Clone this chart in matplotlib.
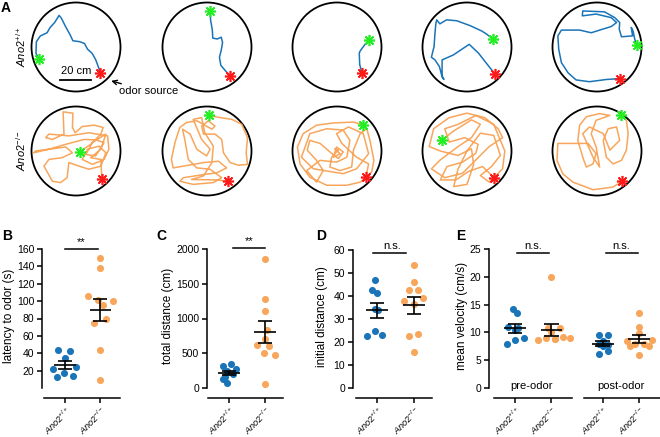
import numpy as np
import matplotlib
matplotlib.use('Agg')
import matplotlib.pyplot as plt
from matplotlib.patches import Circle

plt.rcParams['font.family'] = ['Liberation Sans', 'DejaVu Sans']
plt.rcParams['mathtext.fontset'] = 'custom'
plt.rcParams['mathtext.rm'] = 'Liberation Sans'
plt.rcParams['mathtext.it'] = 'Liberation Sans:italic'
plt.rcParams['mathtext.bf'] = 'Liberation Sans:bold'

W, H = 660, 437
BLUE = '#1a74b8'
ORANGE = '#f8a65c'

# ---- A: tracks, arena radius = 1, from start (green) to odor source (red)
wt_track1 = [(-0.83, -0.28), (-0.90, -0.14), (-0.89, 0.12), (-0.80, 0.25), (-0.65, 0.32),
             (-0.58, 0.44), (-0.48, 0.55), (-0.38, 0.71), (-0.33, 0.65), (-0.24, 0.47),
             (-0.13, 0.27), (-0.07, 0.14), (0.08, 0.12), (0.19, 0.08), (0.26, -0.05),
             (0.36, -0.14), (0.44, -0.28), (0.50, -0.44), (0.55, -0.59)]
wt_track2 = [(0.07, 0.82), (0.08, 0.61), (0.12, 0.38), (0.13, 0.20), (0.23, 0.18),
             (0.32, 0.22), (0.35, 0.10), (0.32, -0.07), (0.28, -0.23), (0.31, -0.41),
             (0.41, -0.53), (0.52, -0.65)]
wt_track3 = [(0.73, 0.16), (0.63, 0.06), (0.52, -0.09), (0.50, -0.14), (0.51, -0.39),
             (0.56, -0.59)]
wt_track4 = [(0.58, 0.18), (0.44, 0.29), (0.33, 0.36), (0.07, 0.48), (-0.23, 0.59),
             (-0.46, 0.61), (-0.61, 0.52), (-0.68, 0.61), (-0.70, 0.52), (-0.72, 0.31),
             (-0.74, 0.01), (-0.80, -0.23), (-0.72, -0.29), (-0.62, -0.44), (-0.57, -0.63),
             (-0.52, -0.73), (-0.56, -0.67), (-0.56, -0.29), (-0.31, -0.18), (0.05, 0.06),
             (0.26, -0.14), (0.44, -0.37), (0.63, -0.61)]
wt_track5 = [(0.89, 0.05), (0.85, 0.17), (0.81, 0.36), (0.77, 0.44), (0.80, 0.25),
             (0.55, 0.23), (0.50, 0.40), (0.51, 0.55), (0.40, 0.66), (0.17, 0.79),
             (-0.32, 0.81), (-0.33, 0.70), (-0.02, 0.74), (0.32, 0.66), (0.44, 0.55),
             (0.32, 0.46), (0.06, 0.38), (-0.13, 0.32), (-0.39, 0.38), (-0.80, 0.38),
             (-0.88, 0.25), (-0.86, -0.05), (-0.80, -0.35), (-0.65, -0.58), (-0.47, -0.74),
             (-0.17, -0.78), (0.21, -0.73), (0.51, -0.71)]

ko_track1 = [(0.08, -0.02), (0.33, 0.15), (0.56, 0.38), (0.61, 0.53), (0.41, 0.58),
             (0.14, 0.55), (-0.02, 0.41), (-0.08, 0.53), (-0.07, 0.85), (-0.29, 0.88),
             (-0.27, 0.38), (-0.53, 0.26), (-0.68, 0.30), (-0.61, 0.38), (-0.16, 0.34),
             (0.29, 0.41), (0.71, 0.34), (0.74, 0.04), (0.63, -0.19), (0.37, -0.30),
             (0.14, -0.19), (0.26, 0.04), (0.52, 0.11), (0.67, -0.04), (0.56, -0.34),
             (0.29, -0.41), (0.07, -0.34), (-0.16, -0.26), (-0.20, -0.60), (-0.35, -0.71),
             (-0.53, -0.68), (-0.72, -0.34), (-0.61, -0.19), (-0.31, -0.15), (-0.08, -0.04),
             (-0.23, 0.09), (-0.91, 0.00), (-0.95, -0.04), (-0.61, 0.04), (-0.23, 0.15),
             (0.18, 0.26), (0.44, 0.25), (0.63, 0.19), (0.44, -0.11), (0.22, -0.08),
             (0.37, 0.19), (0.67, 0.38), (0.56, 0.04), (0.33, -0.15), (0.56, -0.19),
             (0.58, -0.64)]
ko_track2 = [(0.05, 0.81), (0.18, 0.77), (0.56, 0.71), (0.78, 0.60), (0.91, 0.30),
             (0.88, -0.04), (0.91, -0.30), (0.71, -0.32), (0.52, -0.26), (0.37, -0.04),
             (0.33, 0.26), (0.18, 0.38), (-0.08, 0.38), (-0.12, 0.56), (0.03, 0.68),
             (0.18, 0.56), (0.11, 0.49), (-0.23, 0.68), (-0.46, 0.64), (-0.61, 0.53),
             (-0.72, 0.19), (-0.80, -0.19), (-0.76, -0.38), (-0.53, -0.34), (-0.08, -0.26),
             (0.26, -0.23), (0.44, -0.38), (0.22, -0.49), (-0.08, -0.53), (-0.53, -0.60),
             (-0.61, -0.68), (-0.31, -0.75), (0.14, -0.71), (0.33, -0.60), (0.07, -0.41),
             (-0.23, -0.38), (-0.42, -0.19), (-0.50, 0.26), (-0.55, 0.49), (-0.38, 0.38),
             (-0.23, 0.04), (-0.01, -0.11), (0.07, 0.04), (-0.12, 0.26), (-0.31, 0.71),
             (-0.12, 0.75), (-0.05, 0.41), (0.14, 0.11), (0.11, -0.26), (-0.08, -0.56),
             (-0.35, -0.64), (0.22, -0.65), (0.47, -0.68)]
ko_track3 = [(0.58, 0.59), (0.37, 0.65), (-0.08, 0.63), (-0.46, 0.58), (-0.76, 0.39),
             (-0.89, 0.09), (-0.83, -0.29), (-0.61, -0.59), (-0.23, -0.77), (0.22, -0.77),
             (0.52, -0.70), (0.78, -0.47), (0.83, -0.21), (0.74, 0.24), (0.67, 0.50),
             (0.52, 0.39), (0.37, 0.02), (0.33, -0.36), (0.07, -0.44), (-0.16, -0.36),
             (-0.12, -0.14), (0.03, 0.02), (-0.05, 0.05), (0.07, -0.06), (-0.08, -0.14),
             (-0.01, 0.09), (0.14, -0.02), (0.03, -0.17), (-0.16, -0.02), (-0.38, 0.17),
             (-0.61, 0.24), (-0.67, 0.02), (-0.46, -0.21), (-0.31, -0.44), (-0.46, -0.70),
             (-0.68, -0.44), (-0.38, -0.21), (-0.01, -0.25), (0.22, -0.14), (0.29, 0.24),
             (0.14, 0.47), (-0.23, 0.50), (-0.61, 0.39), (-0.80, -0.14), (-0.53, -0.40),
             (0.14, -0.51), (0.44, -0.40), (0.71, -0.06), (0.59, 0.39), (0.26, 0.54),
             (-0.01, 0.39), (0.11, 0.17), (0.44, -0.14), (0.71, -0.29), (0.65, -0.59)]
ko_track4 = [(-0.57, 0.24), (-0.30, 0.45), (0.10, 0.70), (0.30, 0.60), (0.10, 0.30),
             (-0.20, 0.10), (-0.60, -0.20), (-0.80, -0.40), (-0.50, -0.60), (-0.10, -0.50),
             (0.20, -0.20), (0.50, 0.10), (0.80, 0.30), (0.70, 0.50), (0.40, 0.75),
             (0.00, 0.85), (-0.40, 0.75), (-0.75, 0.50), (-0.85, 0.10), (-0.60, 0.00),
             (-0.20, -0.10), (0.10, 0.05), (0.15, -0.30), (0.00, -0.75), (-0.30, -0.80),
             (-0.20, -0.40), (0.00, 0.00), (0.30, 0.40), (0.60, 0.35), (0.75, -0.10),
             (0.55, -0.35), (0.30, -0.55), (0.50, -0.70), (0.80, -0.40), (0.85, 0.00),
             (0.60, 0.60), (0.20, 0.80), (-0.20, 0.60), (-0.50, 0.50), (-0.40, 0.20),
             (-0.05, 0.30), (0.25, 0.15), (0.20, -0.05), (-0.10, -0.25), (-0.45, -0.35),
             (-0.60, -0.65), (-0.25, -0.65), (0.05, -0.45), (0.35, -0.35), (0.61, -0.60)]
ko_track5 = [(0.53, 0.80), (0.66, 0.69), (0.70, 0.39), (0.66, 0.02), (0.55, -0.21),
             (0.36, -0.29), (0.21, -0.14), (0.14, 0.24), (0.25, 0.50), (0.44, 0.54),
             (0.51, 0.24), (0.29, 0.02), (0.14, 0.39), (-0.17, 0.54), (-0.32, 0.39),
             (-0.09, -0.14), (0.06, -0.36), (-0.02, 0.09), (-0.13, 0.39), (-0.02, 0.69),
             (0.29, 0.80), (0.06, 0.84), (-0.24, 0.77), (-0.39, 0.58), (-0.43, 0.24),
             (-0.32, -0.14), (-0.24, -0.36), (-0.09, -0.29), (-0.02, -0.06), (-0.20, 0.17),
             (-0.54, 0.17), (-0.88, 0.17), (-0.90, -0.21), (-0.77, -0.51), (-0.54, -0.70),
             (-0.09, -0.87), (0.36, -0.81), (0.57, -0.68)]

wt_tracks = [wt_track1, wt_track2, wt_track3, wt_track4, wt_track5]
ko_tracks = [ko_track1, ko_track2, ko_track3, ko_track4, ko_track5]
ARENA_RADIUS_CM = 29.0

# ---- B-E: per-animal values (+/+ blue, -/- orange)
latency_wt = [43.8, 42.7, 34, 24.6, 21.5, 17, 14, 12.3]
latency_ko = [150, 138, 106, 101, 100, 96, 80, 75, 44, 9]
latency_wt_jit = [-0.19, 0.14, 0.0, 0.30, -0.33, -0.02, 0.24, -0.22]
latency_ko_jit = [0, 0, -0.33, -0.05, 0.36, 0.08, 0.18, -0.16, 0, 0]

dist_wt = [340, 310, 270, 250, 200, 160, 130, 70]
dist_ko = [1850, 1280, 1110, 830, 700, 620, 610, 500, 470, 60]
dist_wt_jit = [0.05, -0.17, 0.2, -0.05, 0.12, -0.12, -0.18, -0.05]
dist_ko_jit = [0, 0, 0, 0.05, 0, -0.22, 0.12, -0.03, 0.28, 0]

init_wt = [47, 42.5, 41.5, 34.5, 34, 25, 23, 22.5]
init_ko = [53.5, 46.3, 42.4, 42.4, 39.3, 37.9, 36.6, 23.4, 22.8, 15.6]
init_wt_jit = [-0.06, -0.13, 0.0, -0.06, 0.02, -0.06, 0.13, -0.26]
init_ko_jit = [0, 0, -0.14, 0.12, 0.23, -0.27, 0, 0.12, -0.14, 0]

vel_pre_wt = [14.2, 13.5, 11, 10.8, 10.5, 9, 8.7, 8]
vel_pre_ko = [20, 10.8, 10.8, 10, 9.1, 9, 9, 8.9, 8.8, 8.7]
vel_post_wt = [9.6, 9.6, 8.5, 8, 7.8, 7.5, 6.6, 6.2]
vel_post_ko = [13.5, 11, 9.9, 8.7, 8.4, 7.9, 7.9, 7.6, 7.5, 6]
vel_pre_wt_jit = [-0.05, 0.06, -0.18, 0.09, 0, 0.25, 0, -0.23]
vel_pre_ko_jit = [0, -0.09, 0.23, 0, 0.32, -0.15, 0.52, 0.1, 0.1, -0.36]
vel_post_wt_jit = [-0.11, 0.16, 0, -0.11, 0.16, 0, 0.16, -0.11]
vel_post_ko_jit = [0, 0, 0, 0.35, -0.34, -0.11, 0.12, -0.26, 0.28, 0]

genotype_labels = [r'$\mathit{Ano2}^{+/+}$', r'$\mathit{Ano2}^{-/-}$']

fig = plt.figure(figsize=(W / 100, H / 100), dpi=100)


def px_axes(x0, y0, w, h):
    return fig.add_axes([x0 / W, 1 - (y0 + h) / H, w / W, h / H])


# ---- panel A
circle_x = [76, 207, 337, 467, 597]
circle_y = [47, 151]
R = 44.5
lim = 50 / R
arena_axes = []
for row, (tracks, col) in enumerate([(wt_tracks, BLUE), (ko_tracks, ORANGE)]):
    for i, tr in enumerate(tracks):
        ax = px_axes(circle_x[i] - 50, circle_y[row] - 50, 100, 100)
        ax.set_xlim(-lim, lim)
        ax.set_ylim(-lim, lim)
        ax.axis('off')
        ax.add_patch(Circle((0, 0), 1, fill=False, ec='k', lw=1.3))
        xy = np.array(tr)
        ax.plot(xy[:, 0], xy[:, 1], color=col, lw=1.1, solid_joinstyle='round')
        ax.plot(xy[0, 0], xy[0, 1], marker=(8, 2, 0), ms=8, mec='#22ee22', mew=1.2)
        ax.plot(xy[-1, 0], xy[-1, 1], marker=(8, 2, 0), ms=8, mec='#ff1a1a', mew=1.2)
        arena_axes.append(ax)

ax = arena_axes[0]
bar = 20 / ARENA_RADIUS_CM
ax.plot([-0.35, -0.35 + bar], [-0.74, -0.74], color='k', lw=1.3)
ax.text(-0.35 + bar / 2, -0.66, '20 cm', ha='center', va='bottom', fontsize=8)
ax.annotate('odor source', xy=(0.79, -0.76), xytext=(0.96, -1.0), fontsize=8,
            ha='left', va='center', annotation_clip=False,
            arrowprops=dict(arrowstyle='->', color='k', lw=1.0, shrinkA=0, shrinkB=0))

fig.text(21 / W, 1 - 47 / H, genotype_labels[0], rotation=90, ha='center', va='center', fontsize=8)
fig.text(21 / W, 1 - 151 / H, genotype_labels[1], rotation=90, ha='center', va='center', fontsize=8)

for letter, (x, y) in zip('ABCDE', [(1, 1), (2, 229), (156, 229), (316, 229), (456, 229)]):
    fig.text(x / W, 1 - y / H, letter, fontsize=10, fontweight='bold', ha='left', va='top')


# ---- panels B-E
def style(ax, xlim, ylim, yticks, ylabel, lab_x, lab_y=0.52):
    ax.set_xlim(*xlim)
    ax.set_ylim(*ylim)
    ax.set_yticks(yticks)
    for s in ['top', 'right']:
        ax.spines[s].set_visible(False)
    ax.spines['left'].set_linewidth(1.1)
    ax.spines['bottom'].set_linewidth(1.1)
    ax.spines['bottom'].set_position(('outward', 7.2))
    ax.tick_params(width=1.1, length=3.6, labelsize=7.5, pad=2)
    ax.tick_params(axis='x', pad=1)
    ax.set_ylabel(ylabel, fontsize=8.5)
    ax.yaxis.set_label_coords(lab_x, lab_y)


def dots(ax, x0, vals, jit, color):
    ax.scatter(x0 + np.array(jit), vals, s=26, color=color, lw=0, zorder=3, clip_on=False)
    m = np.mean(vals)
    se = np.std(vals, ddof=1) / np.sqrt(len(vals))
    kw = dict(color='k', lw=1.2, zorder=4, solid_capstyle='butt')
    ax.plot([x0 - 0.3, x0 + 0.3], [m, m], **kw)
    ax.plot([x0 - 0.2, x0 + 0.2], [m + se, m + se], **kw)
    ax.plot([x0 - 0.2, x0 + 0.2], [m - se, m - se], **kw)
    ax.plot([x0, x0], [m - se, m + se], **kw)


def sig(ax, x1, x2, y, txt, tx=None):
    ax.plot([x1, x2], [y, y], color='k', lw=1.1, clip_on=False)
    ax.annotate(txt, xy=((x1 + x2) / 2 if tx is None else tx, y), xytext=(0, 1.5),
                textcoords='offset points', ha='center', va='bottom', fontsize=8,
                annotation_clip=False)


def xlabels(ax, pos, labels):
    ax.set_xticks(pos)
    ax.set_xticklabels(labels, rotation=45, ha='right', rotation_mode='anchor', fontsize=6.6)


# B
axB = px_axes(42, 249, 78, 139)
style(axB, (-0.657, 1.571), (0, 160), range(20, 161, 20), 'latency to odor (s)', -0.35)
axB.spines['left'].set_bounds(0, 160)
axB.spines['bottom'].set_bounds(-0.6, 1.571)
dots(axB, 0, latency_wt, latency_wt_jit, BLUE)
dots(axB, 1, latency_ko, latency_ko_jit, ORANGE)
sig(axB, 0, 0.95, 160, '**')
xlabels(axB, [0, 1], genotype_labels)

# C
axC = px_axes(207, 249, 76, 139)
style(axC, (-0.611, 1.5), (0, 2000), range(0, 2001, 500), 'total distance (cm)', -0.43)
axC.spines['bottom'].set_bounds(-0.58, 1.5)
dots(axC, 0, dist_wt, dist_wt_jit, BLUE)
dots(axC, 1, dist_ko, dist_ko_jit, ORANGE)
sig(axC, 0.1, 1.0, 2010, '**')
xlabels(axC, [0, 1], genotype_labels)

# D
axD = px_axes(353, 250, 79, 138)
style(axD, (-0.649, 1.486), (0, 60), range(0, 61, 10), 'initial distance (cm)', -0.32)
axD.spines['bottom'].set_bounds(-0.57, 1.486)
dots(axD, 0, init_wt, init_wt_jit, BLUE)
dots(axD, 1, init_ko, init_ko_jit, ORANGE)
sig(axD, -0.12, 0.78, 58.8, 'n.s.', tx=0.4)
xlabels(axD, [0, 1], genotype_labels)

# E
pos = [0, 1, 2.4, 3.4]
axE = px_axes(489, 249, 171, 139)
style(axE, (-0.71, 3.97), (0, 25), range(0, 26, 5), 'mean velocity (cm/s)', -0.123)
axE.spines['bottom'].set_bounds(-0.58, 1.56)
axE.plot([1.89, 3.97], [-10 / 139, -10 / 139], color='k', lw=1.1,
         transform=axE.get_xaxis_transform(), clip_on=False)
dots(axE, pos[0], vel_pre_wt, vel_pre_wt_jit, BLUE)
dots(axE, pos[1], vel_pre_ko, vel_pre_ko_jit, ORANGE)
dots(axE, pos[2], vel_post_wt, vel_post_wt_jit, BLUE)
dots(axE, pos[3], vel_post_ko, vel_post_ko_jit, ORANGE)
sig(axE, 0.05, 0.94, 24.3, 'n.s.')
sig(axE, 2.48, 3.36, 24.3, 'n.s.')
axE.text(0.45, 0.3, 'pre-odor', ha='center', va='center', fontsize=8)
axE.text(2.9, 0.3, 'post-odor', ha='center', va='center', fontsize=8)
xlabels(axE, pos, genotype_labels * 2)

fig.savefig('out.png', dpi=100)
